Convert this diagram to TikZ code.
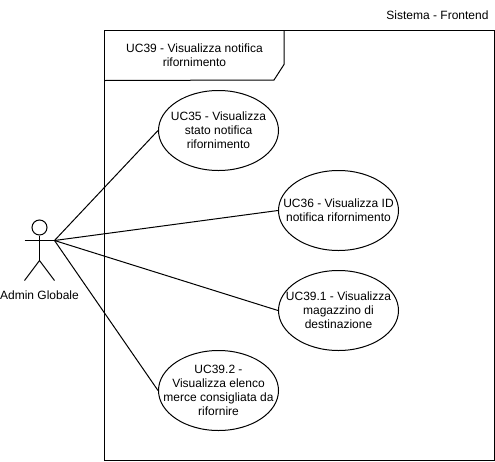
\documentclass[tikz,border=0pt]{standalone}
\usepackage{fontspec}
\setmainfont{Liberation Sans}
\usetikzlibrary{shapes.geometric}
\tikzset{
    usecase/.style={draw, ellipse, minimum width=120pt, minimum height=80pt, inner xsep=-30pt, inner ysep=-20pt, align=center},
    plaintext/.style={inner sep=0pt, align=center}
}

\begin{document}
\begin{tikzpicture}[x=1pt, y=-1pt, line width=1pt, font=\fontsize{12}{14}\selectfont]
    \useasboundingbox (0,0) rectangle (495,461);

    % System frame and its tab
    \node[draw, minimum width=390pt, minimum height=430pt, inner sep=0pt] (frame) at (299.5,245.5) {};
    \draw (frame.north west) ++(180,0) coordinate (tabtop) -- ++(0,34.5) coordinate (tabcut)
        -- ++(-10,15.5) coordinate (tabfoot) -- (104.5,80.5) coordinate (tabend);
    \node[plaintext] (title) at (194.5,55.5) {UC39 - Visualizza notifica\\rifornimento};
    \node[plaintext] (system) at (437.5,15.5) {Sistema - Frontend};

    % Use cases
    \node[usecase] (uc35) at (218.5,130.5) {UC35 - Visualizza\\stato notifica\\rifornimento};
    \node[usecase] (uc36) at (338.5,210.5) {UC36 - Visualizza ID\\notifica rifornimento};
    \node[usecase] (uc391) at (338.5,310.5) {UC39.1 - Visualizza\\magazzino di\\destinazione};
    \node[usecase] (uc392) at (218.5,390.5) {UC39.2 -\\Visualizza elenco\\merce consigliata da\\rifornire};

    % Actor
    \node[draw, circle, minimum size=15pt, inner sep=0pt] (head) at (39.5,227.5) {};
    \coordinate (hip) at (39.5,260.5);
    \coordinate (handl) at (24.5,240.5);
    \coordinate (handr) at (54.5,240.5);
    \coordinate (footl) at (24.5,280.5);
    \coordinate (footr) at (54.5,280.5);
    \draw (head) -- (hip);
    \draw (handl) -- (handr);
    \draw (footl) -- (hip) -- (footr);
    \node[plaintext] (admin) at (39.5,295) {Admin Globale};

    % Associations
    \draw (handr) -- (uc35.west);
    \draw (handr) -- (uc36.west);
    \draw (handr) -- (uc391.west);
    \draw (handr) -- (uc392.west);
\end{tikzpicture}
\end{document}
